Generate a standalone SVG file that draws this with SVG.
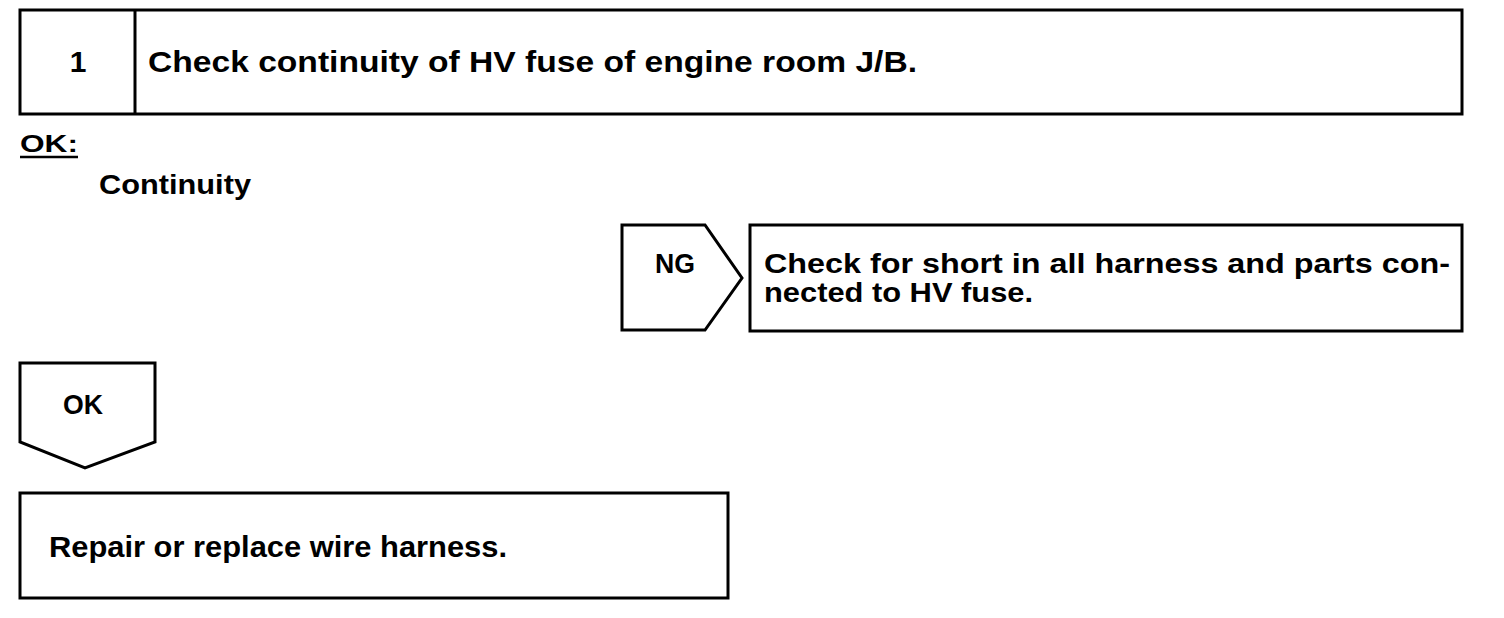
<svg xmlns="http://www.w3.org/2000/svg" width="1504" height="618" viewBox="0 0 1504 618">
<style>
.box{fill:#fff;stroke:#000;stroke-width:3}
.t{font-family:"Liberation Sans",Arial,Helvetica,sans-serif;font-weight:bold;fill:#000}
</style>
<rect width="1504" height="618" fill="#fff"/>
<g id="step1">
<rect class="box" x="20" y="10" width="1442" height="104"/>
<line x1="135" y1="10" x2="135" y2="114" stroke="#000" stroke-width="3"/>
<text class="t" x="78" y="72" font-size="30" text-anchor="middle">1</text>
<text class="t" x="148" y="72" font-size="30" textLength="769" lengthAdjust="spacingAndGlyphs">Check continuity of HV fuse of engine room J/B.</text>
</g>
<g id="ok-spec">
<text class="t" x="20" y="152" font-size="23" textLength="58" lengthAdjust="spacingAndGlyphs">OK:</text>
<line x1="20" y1="157" x2="78" y2="157" stroke="#000" stroke-width="2.5"/>
<text class="t" x="99" y="194" font-size="28" textLength="152" lengthAdjust="spacingAndGlyphs">Continuity</text>
</g>
<g id="connectors">
<g id="ng-arrow">
<polygon class="box" points="622,225 705,225 742,278 705,330 622,330"/>
<text class="t" x="655" y="273" font-size="28" textLength="40" lengthAdjust="spacingAndGlyphs">NG</text>
</g>
<g id="ok-arrow">
<polygon class="box" points="20,363 155,363 155,442 85,468 20,442"/>
<text class="t" x="63" y="414" font-size="28" textLength="40" lengthAdjust="spacingAndGlyphs">OK</text>
</g>
</g>
<g id="ng-action">
<rect class="box" x="750" y="225" width="712" height="106"/>
<text class="t" x="764" y="273" font-size="28" textLength="686" lengthAdjust="spacingAndGlyphs">Check for short in all harness and parts con-</text>
<text class="t" x="764" y="302" font-size="28" textLength="269" lengthAdjust="spacingAndGlyphs">nected to HV fuse.</text>
</g>
<g id="ok-action">
<rect class="box" x="20" y="493" width="708" height="105"/>
<text class="t" x="49" y="557" font-size="29" textLength="458" lengthAdjust="spacingAndGlyphs">Repair or replace wire harness.</text>
</g>
</svg>
